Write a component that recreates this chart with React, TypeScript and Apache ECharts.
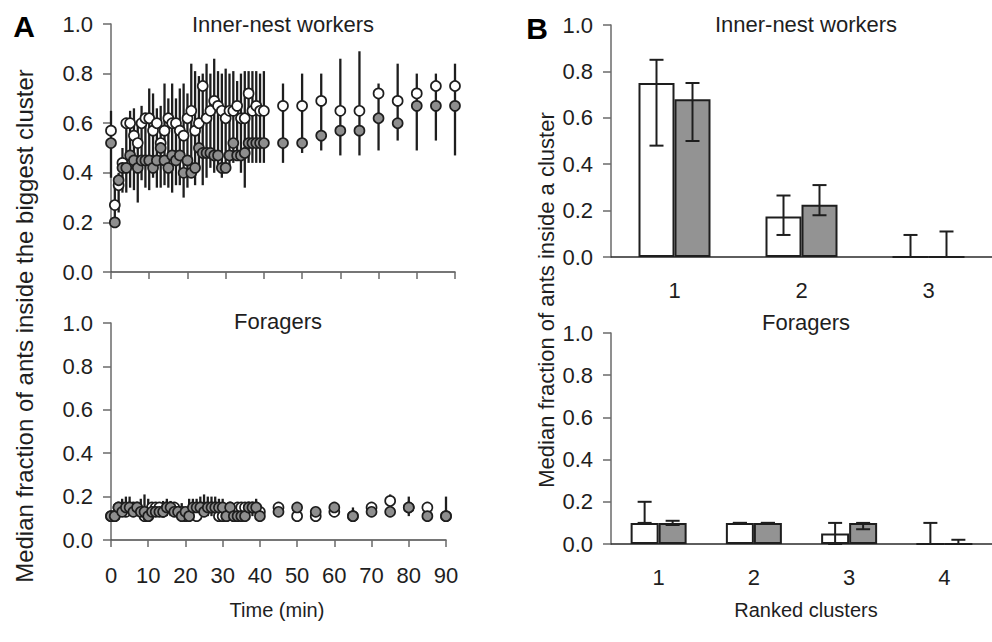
import React, { useEffect, useRef } from "react";
import * as echarts from "echarts";

// ---------- Panel A: time course ----------
const timePoints = [
  0, 1, 2, 3, 4, 5, 6, 7, 8, 9, 10, 11, 12, 13, 14, 15, 16, 17, 18, 19, 20,
  21, 22, 23, 24, 25, 26, 27, 28, 29, 30, 31, 32, 33, 34, 35, 36, 37, 38, 39, 40,
  45, 50, 55, 60, 65, 70, 75, 80, 85, 90,
];

const innerWhite = [
  0.57, 0.27, 0.35, 0.44, 0.6, 0.6, 0.55, 0.52, 0.6, 0.62, 0.62, 0.57, 0.6, 0.52, 0.57, 0.62, 0.6, 0.6, 0.57, 0.55, 0.62,
  0.65, 0.57, 0.6, 0.75, 0.62, 0.65, 0.69, 0.67, 0.65, 0.62, 0.65, 0.65, 0.67, 0.62, 0.62, 0.72, 0.65, 0.67, 0.65, 0.65,
  0.67, 0.67, 0.69, 0.65, 0.65, 0.72, 0.69, 0.72, 0.75, 0.75,
];
const innerGrey = [
  0.52, 0.2, 0.37, 0.42, 0.42, 0.47, 0.45, 0.42, 0.45, 0.45, 0.45, 0.42, 0.45, 0.5, 0.45, 0.42, 0.47, 0.45, 0.47, 0.4, 0.45,
  0.4, 0.42, 0.5, 0.48, 0.48, 0.48, 0.47, 0.47, 0.42, 0.42, 0.47, 0.52, 0.47, 0.47, 0.48, 0.52, 0.52, 0.52, 0.52, 0.52,
  0.52, 0.52, 0.55, 0.57, 0.57, 0.62, 0.6, 0.67, 0.67, 0.67,
];
const innerWhiskerTop = [
  0.65, 0.37, 0.4, 0.5, 0.62, 0.65, 0.66, 0.61, 0.67, 0.62, 0.74, 0.72, 0.66, 0.67, 0.76, 0.7, 0.76, 0.7, 0.74, 0.76, 0.72,
  0.84, 0.81, 0.79, 0.8, 0.84, 0.8, 0.86, 0.81, 0.8, 0.82, 0.8, 0.81, 0.77, 0.8, 0.81, 0.81, 0.81, 0.81, 0.8, 0.81,
  0.76, 0.8, 0.8, 0.86, 0.89, 0.76, 0.84, 0.8, 0.8, 0.84,
];
const innerWhiskerBottom = [
  0.38, 0.2, 0.24, 0.32, 0.32, 0.34, 0.33, 0.28, 0.37, 0.34, 0.33, 0.38, 0.34, 0.34, 0.35, 0.34, 0.32, 0.35, 0.35, 0.3, 0.34,
  0.38, 0.35, 0.42, 0.35, 0.38, 0.42, 0.4, 0.42, 0.38, 0.4, 0.42, 0.44, 0.46, 0.4, 0.34, 0.44, 0.44, 0.44, 0.44, 0.44,
  0.44, 0.48, 0.49, 0.47, 0.47, 0.49, 0.53, 0.49, 0.53, 0.47,
];

const foragerWhite = [
  0.11, 0.11, 0.15, 0.15, 0.13, 0.15, 0.15, 0.15, 0.13, 0.11, 0.11, 0.15, 0.15, 0.15, 0.13, 0.15, 0.15, 0.15, 0.13, 0.13, 0.11,
  0.13, 0.13, 0.11, 0.15, 0.15, 0.15, 0.15, 0.15, 0.11, 0.11, 0.11, 0.15, 0.11, 0.15, 0.15, 0.15, 0.15, 0.15, 0.15, 0.13,
  0.15, 0.11, 0.11, 0.13, 0.11, 0.15, 0.18, 0.15, 0.15, 0.11,
];
const foragerGrey = [
  0.11, 0.11, 0.15, 0.13, 0.15, 0.15, 0.13, 0.15, 0.13, 0.13, 0.11, 0.13, 0.13, 0.13, 0.13, 0.15, 0.15, 0.13, 0.13, 0.11, 0.13,
  0.11, 0.15, 0.15, 0.15, 0.13, 0.15, 0.15, 0.15, 0.15, 0.15, 0.11, 0.15, 0.11, 0.11, 0.11, 0.11, 0.15, 0.15, 0.15, 0.11,
  0.13, 0.15, 0.13, 0.15, 0.11, 0.13, 0.13, 0.15, 0.11, 0.11,
];
const foragerWhiskerTop = [
  0.11, 0.13, 0.15, 0.19, 0.2, 0.2, 0.15, 0.15, 0.19, 0.21, 0.19, 0.15, 0.15, 0.15, 0.18, 0.19, 0.18, 0.15, 0.15, 0.17, 0.15,
  0.19, 0.19, 0.19, 0.2, 0.21, 0.2, 0.2, 0.2, 0.19, 0.19, 0.15, 0.15, 0.15, 0.15, 0.15, 0.15, 0.15, 0.15, 0.19, 0.15,
  0.15, 0.15, 0.13, 0.15, 0.15, 0.15, 0.21, 0.2, 0.15, 0.2,
];
const foragerWhiskerBottom = [
  0.11, 0.11, 0.11, 0.11, 0.11, 0.11, 0.11, 0.11, 0.11, 0.11, 0.11, 0.11, 0.11, 0.11, 0.11, 0.11, 0.11, 0.11, 0.11, 0.11, 0.11,
  0.11, 0.11, 0.11, 0.11, 0.11, 0.11, 0.11, 0.11, 0.11, 0.11, 0.11, 0.11, 0.11, 0.11, 0.11, 0.11, 0.11, 0.11, 0.11, 0.11,
  0.11, 0.11, 0.11, 0.11, 0.11, 0.11, 0.12, 0.11, 0.11, 0.11,
];

// ---------- Panel B: ranked clusters ----------
const innerRanks = ["1", "2", "3"];
const innerBarWhite = [0.75, 0.175, 0];
const innerBarWhiteLow = [0.48, 0.095, 0];
const innerBarWhiteHigh = [0.85, 0.265, 0.095];
const innerBarGrey = [0.68, 0.225, 0];
const innerBarGreyLow = [0.5, 0.18, 0];
const innerBarGreyHigh = [0.75, 0.31, 0.11];

const foragerRanks = ["1", "2", "3", "4"];
const foragerBarWhite = [0.1, 0.1, 0.05, 0];
const foragerBarWhiteLow = [0.1, 0.1, 0, 0];
const foragerBarWhiteHigh = [0.2, 0.1, 0.1, 0.1];
const foragerBarGrey = [0.1, 0.1, 0.1, 0];
const foragerBarGreyLow = [0.09, 0.1, 0.07, 0];
const foragerBarGreyHigh = [0.11, 0.1, 0.1, 0.02];

const FONT = "'Liberation Sans', Arial, sans-serif";
const TEXT = "#1e1e1e";
const INK = "#1e1e1e";
const GREY_FILL = "#8e8e8e";
const BAR_GREY = "#939393";
const FS = 22;

export default function App() {
  const ref = useRef<HTMLDivElement>(null);

  useEffect(() => {
    if (!ref.current) return;
    const chart = echarts.init(ref.current, undefined, { renderer: "svg" });

    const pts = (vals: number[]) => timePoints.map((t, i) => [t, vals[i]]);
    const whisk = (lo: number[], hi: number[]) => timePoints.map((t, i) => [t, lo[i], hi[i]]);
    const barErr = (lo: number[], hi: number[]) => lo.map((l, i) => [i, l, hi[i]]);

    const whiskerItem = (_p: any, api: any) => {
      const t = api.value(0);
      const a = api.coord([t, api.value(1)]);
      const b = api.coord([t, api.value(2)]);
      return {
        type: "line",
        shape: { x1: a[0], y1: a[1], x2: b[0], y2: b[1] },
        style: { stroke: INK, lineWidth: 2.3 },
      };
    };

    const errItem = (offset: number, cap: number) => (_p: any, api: any) => {
      const c = api.value(0);
      const a = api.coord([c, api.value(1)]);
      const b = api.coord([c, api.value(2)]);
      const x = a[0] + offset;
      const st = { stroke: INK, lineWidth: 2 };
      return {
        type: "group",
        children: [
          { type: "line", shape: { x1: x, y1: a[1], x2: x, y2: b[1] }, style: st },
          { type: "line", shape: { x1: x - cap / 2, y1: a[1], x2: x + cap / 2, y2: a[1] }, style: st },
          { type: "line", shape: { x1: x - cap / 2, y1: b[1], x2: x + cap / 2, y2: b[1] }, style: st },
        ],
      };
    };

    const yAxisBase = (gridIndex: number) => ({
      type: "value",
      gridIndex,
      min: 0,
      max: 1,
      interval: 0.2,
      axisLine: { show: true, lineStyle: { color: "#6a6a6a", width: 1.5 } },
      axisTick: { show: true, length: 8, lineStyle: { color: "#6a6a6a", width: 1.5 } },
      splitLine: { show: false },
      axisLabel: {
        formatter: (v: number) => v.toFixed(1),
        fontFamily: FONT,
        fontSize: FS,
        color: TEXT,
        margin: 18,
      },
    });

    const BW_TOP = 36;
    const BW_BOT = 28;

    const scatter = (xi: number, vals: number[], fill: string, z: number) => ({
      type: "scatter",
      xAxisIndex: xi,
      yAxisIndex: xi,
      symbol: "circle",
      symbolSize: 10,
      itemStyle: { color: fill, borderColor: INK, borderWidth: 1.7, opacity: 1 },
      data: pts(vals),
      z,
    });

    const title = (text: string, x: number, y: number, size = FS, extra: any = {}) => ({
      type: "text",
      x,
      y,
      ...extra,
      style: { text, font: `${size}px ${FONT}`, fill: TEXT, align: "center", verticalAlign: "middle" },
    });

    const option: any = {
      animation: false,
      backgroundColor: "#ffffff",
      textStyle: { fontFamily: FONT },
      grid: [
        { left: 111, top: 24, width: 344, height: 248 },
        { left: 111, top: 323, width: 335, height: 217 },
        { left: 611, top: 25, width: 390, height: 232 },
        { left: 611, top: 333, width: 385, height: 211 },
      ],
      xAxis: [
        {
          type: "value",
          gridIndex: 0,
          min: 0,
          max: 90,
          interval: 10,
          axisLine: { lineStyle: { color: "#4a4a4a", width: 1.5 } },
          axisTick: { length: 7, lineStyle: { color: "#6a6a6a", width: 1.5 } },
          axisLabel: { show: false },
          splitLine: { show: false },
        },
        {
          type: "value",
          gridIndex: 1,
          min: 0,
          max: 90,
          interval: 10,
          axisLine: { lineStyle: { color: "#4a4a4a", width: 1.5 } },
          axisTick: { length: 7, lineStyle: { color: "#6a6a6a", width: 1.5 } },
          axisLabel: { fontFamily: FONT, fontSize: FS, color: TEXT, margin: 24 },
          splitLine: { show: false },
        },
        {
          type: "category",
          gridIndex: 2,
          data: innerRanks,
          axisLine: { lineStyle: { color: "#2a2a2a", width: 1.5 } },
          axisTick: { length: 8, lineStyle: { color: "#6a6a6a", width: 1.5 } },
          axisLabel: { fontFamily: FONT, fontSize: FS, color: TEXT, margin: 22 },
        },
        {
          type: "category",
          gridIndex: 3,
          data: foragerRanks,
          axisLine: { lineStyle: { color: "#2a2a2a", width: 1.5 } },
          axisTick: { length: 8, lineStyle: { color: "#6a6a6a", width: 1.5 } },
          axisLabel: { fontFamily: FONT, fontSize: FS, color: TEXT, margin: 22 },
        },
      ],
      yAxis: [yAxisBase(0), yAxisBase(1), yAxisBase(2), yAxisBase(3)],
      series: [
        // Panel A top
        {
          type: "custom",
          xAxisIndex: 0,
          yAxisIndex: 0,
          renderItem: whiskerItem,
          encode: { x: 0, y: [1, 2] },
          data: whisk(innerWhiskerBottom, innerWhiskerTop),
          z: 1,
        },
        scatter(0, innerWhite, "#ffffff", 3),
        scatter(0, innerGrey, GREY_FILL, 4),
        // Panel A bottom
        {
          type: "custom",
          xAxisIndex: 1,
          yAxisIndex: 1,
          renderItem: whiskerItem,
          encode: { x: 0, y: [1, 2] },
          data: whisk(foragerWhiskerBottom, foragerWhiskerTop),
          z: 1,
        },
        scatter(1, foragerWhite, "#ffffff", 3),
        scatter(1, foragerGrey, GREY_FILL, 4),
        // Panel B top
        {
          type: "bar",
          xAxisIndex: 2,
          yAxisIndex: 2,
          barWidth: BW_TOP,
          barGap: "0%",
          itemStyle: { color: "#ffffff", borderColor: INK, borderWidth: 2 },
          data: innerBarWhite,
          z: 2,
        },
        {
          type: "bar",
          xAxisIndex: 2,
          yAxisIndex: 2,
          barWidth: BW_TOP,
          barGap: "0%",
          itemStyle: { color: BAR_GREY, borderColor: INK, borderWidth: 2 },
          data: innerBarGrey,
          z: 2,
        },
        {
          type: "custom",
          xAxisIndex: 2,
          yAxisIndex: 2,
          renderItem: errItem(-BW_TOP / 2, 14),
          encode: { x: 0, y: [1, 2] },
          data: barErr(innerBarWhiteLow, innerBarWhiteHigh),
          z: 5,
        },
        {
          type: "custom",
          xAxisIndex: 2,
          yAxisIndex: 2,
          renderItem: errItem(BW_TOP / 2, 14),
          encode: { x: 0, y: [1, 2] },
          data: barErr(innerBarGreyLow, innerBarGreyHigh),
          z: 5,
        },
        // Panel B bottom
        {
          type: "bar",
          xAxisIndex: 3,
          yAxisIndex: 3,
          barWidth: BW_BOT,
          barGap: "0%",
          itemStyle: { color: "#ffffff", borderColor: INK, borderWidth: 2 },
          data: foragerBarWhite,
          z: 2,
        },
        {
          type: "bar",
          xAxisIndex: 3,
          yAxisIndex: 3,
          barWidth: BW_BOT,
          barGap: "0%",
          itemStyle: { color: BAR_GREY, borderColor: INK, borderWidth: 2 },
          data: foragerBarGrey,
          z: 2,
        },
        {
          type: "custom",
          xAxisIndex: 3,
          yAxisIndex: 3,
          renderItem: errItem(-BW_BOT / 2, 14),
          encode: { x: 0, y: [1, 2] },
          data: barErr(foragerBarWhiteLow, foragerBarWhiteHigh),
          z: 5,
        },
        {
          type: "custom",
          xAxisIndex: 3,
          yAxisIndex: 3,
          renderItem: errItem(BW_BOT / 2, 14),
          encode: { x: 0, y: [1, 2] },
          data: barErr(foragerBarGreyLow, foragerBarGreyHigh),
          z: 5,
        },
      ],
      graphic: [
        { type: "text", x: 24, y: 26, style: { text: "A", font: `bold 30px ${FONT}`, fill: "#000", align: "center", verticalAlign: "middle" } },
        { type: "text", x: 537, y: 28, style: { text: "B", font: `bold 30px ${FONT}`, fill: "#000", align: "center", verticalAlign: "middle" } },
        title("Inner-nest workers", 283, 24),
        title("Foragers", 278, 321),
        title("Inner-nest workers", 806, 24),
        title("Foragers", 806, 322),
        title("Time (min)", 277, 610, 20),
        title("Ranked clusters", 806, 610, 20),
        title("Median fraction of ants inside the biggest cluster", 24, 326, 24, { rotation: Math.PI / 2 }),
        title("Median fraction of ants inside a cluster", 546, 300, 22, { rotation: Math.PI / 2 }),
      ],
    };

    chart.setOption(option);
    return () => chart.dispose();
  }, []);

  return (
    <div
      ref={ref}
      style={{ position: "absolute", left: 0, top: 0, width: 992, height: 642, background: "#fff" }}
    />
  );
}
